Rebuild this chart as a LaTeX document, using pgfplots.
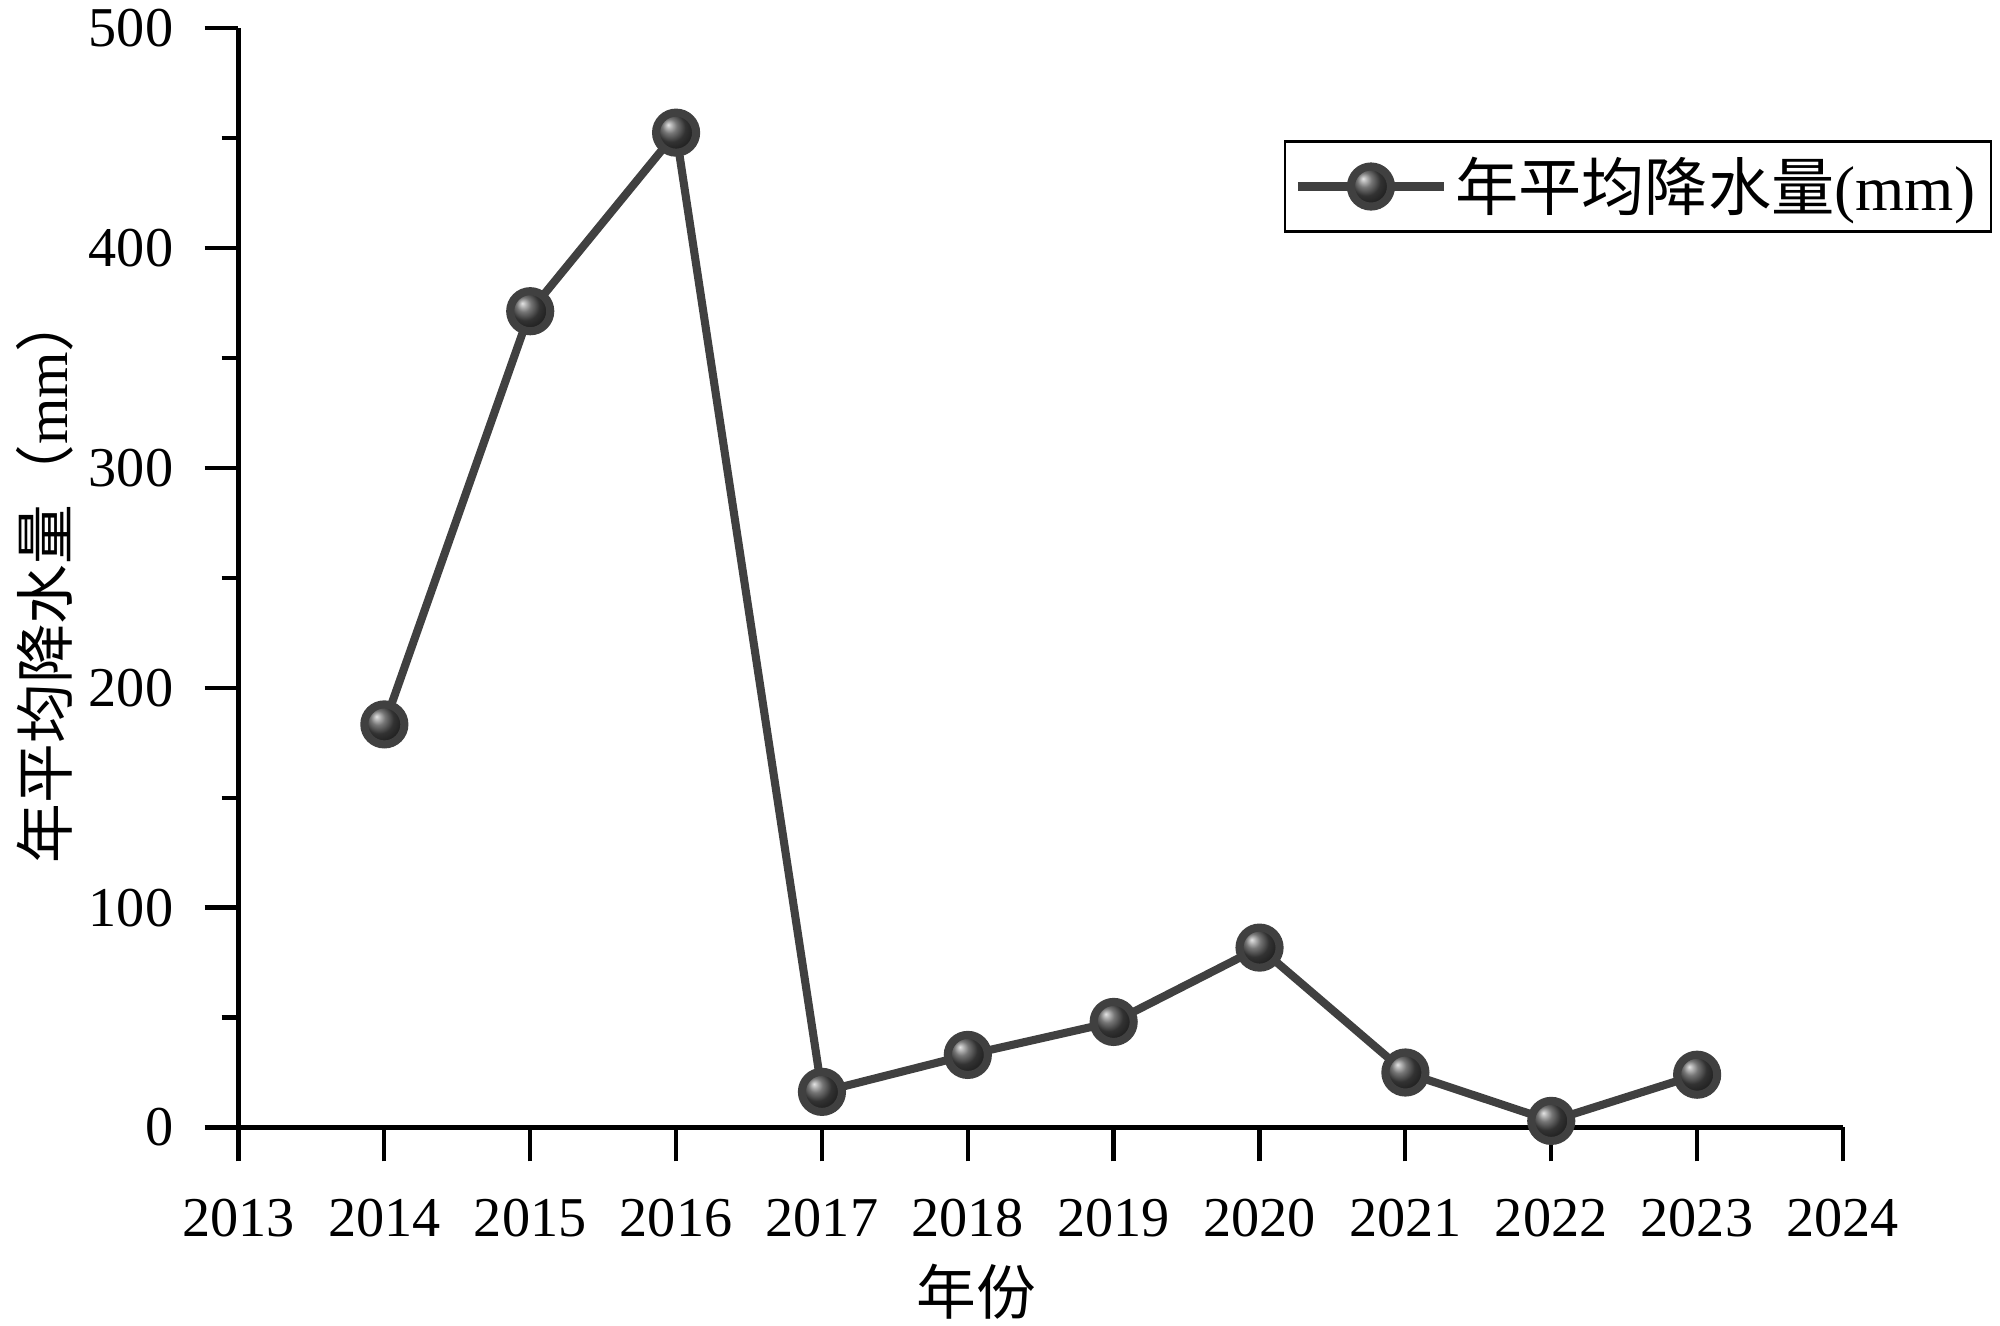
\documentclass[border=0pt]{standalone}
\usepackage{fontspec}
\setmainfont{Liberation Serif}
\newfontfamily\cjk{Noto Sans CJK SC}
\usepackage{pgfplots}
\pgfplotsset{compat=1.18}
\usetikzlibrary{calc}
\definecolor{linegray}{HTML}{404040}

\begin{document}
\begin{tikzpicture}
  \begin{axis}[name=ax,
      scale only axis, width=16.045cm, height=10.995cm,
      xmin=2013, xmax=2024, ymin=0, ymax=500,
      axis x line*=bottom, axis y line*=left,
      axis line style={line width=1.4pt},
      xtick={2013,2014,...,2024}, ytick={0,100,...,500},
      minor y tick num=1,
      tick align=outside,
      major tick length=0.34cm, minor tick length=0.17cm,
      every tick/.style={black, line width=1.2pt},
      /pgf/number format/1000 sep={},
      /pgf/number format/assume math mode=true,
      tick label style={font=\fontsize{16}{19}\selectfont},
      x tick label style={yshift=-0.25cm},
      y tick label style={xshift=-0.19cm},
      label style={font=\fontsize{17}{20}\selectfont},
      xlabel={\cjk 年份},
      ylabel={\cjk 年平均降水量（\normalfont mm\cjk ）},
      xlabel style={at={(axis description cs:0.46,-0.1496)}, anchor=center},
      ylabel style={at={(axis description cs:-0.1206,0.5)}, anchor=center},
      legend style={at={(1.093,0.898)}, anchor=north east, draw=black,
                    line width=0.7pt, font=\fontsize{18}{21}\selectfont,
                    inner sep=2.5pt},
      legend image code/.code={%
        \draw[#1, mark repeat=2, mark phase=2]
          plot coordinates {(0cm,0cm) (0.73cm,0cm) (1.46cm,0cm)};},
    ]
    \addplot[color=linegray, line width=2.3pt, mark=ball, mark size=5.7pt,
             mark options={ball color=black!72}]
      coordinates {(2014,183.3) (2015,371.2) (2016,452.4) (2017,16.2)
                   (2018,33) (2019,48) (2020,81.8) (2021,25)
                   (2022,3) (2023,24)};
    \addlegendentry{{\cjk 年平均降水量}(mm)}
  \end{axis}
  \pgfresetboundingbox
  \useasboundingbox ($(ax.south west)+(-2.385cm,-1.985cm)$)
                    rectangle ($(ax.north east)+(1.57cm,0.28cm)$);
\end{tikzpicture}
\end{document}
